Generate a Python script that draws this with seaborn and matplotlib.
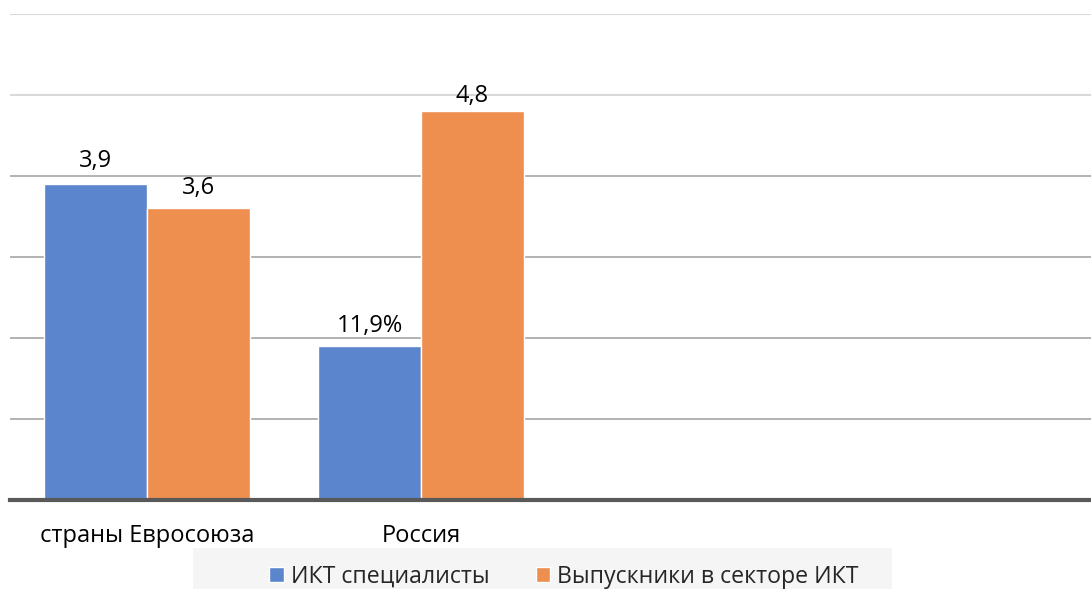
import matplotlib
matplotlib.use("Agg")
import matplotlib.pyplot as plt
import matplotlib.patches as mpatches
import seaborn as sns
import pandas as pd

categories = ["страны Евросоюза", "Россия"]
series_names = ["ИКТ специалисты", "Выпускники в секторе ИКТ"]
ikt_values = [3.9, 1.9]
grad_values = [3.6, 4.8]
ikt_labels = ["3,9", "11,9%"]
grad_labels = ["3,6", "4,8"]
colors = ["#5B86CD", "#EE8F50"]

df = pd.DataFrame({
    "cat": categories * 2,
    "series": [series_names[0]] * 2 + [series_names[1]] * 2,
    "val": ikt_values + grad_values,
})

sns.set_theme(style="white")
plt.rcParams["font.family"] = ["Open Sans", "DejaVu Sans"]

W, H = 1091, 589
fig = plt.figure(figsize=(W / 100, H / 100), dpi=100)
ax = fig.add_axes([10 / W, (H - 500) / H, (W - 10) / W, (500 - 14) / H])
ax.patch.set_alpha(0)

sns.barplot(data=df, x="cat", y="val", hue="series", order=categories,
            hue_order=series_names, palette=colors, width=0.75,
            edgecolor="white", linewidth=1, saturation=1, ax=ax)

ax.set_xlim(-0.5, -0.5 + (W - 10) / 274)
ax.set_ylim(0, 6)
ax.set_yticks([])
ax.tick_params(axis="x", length=0, labelsize=17, pad=17, colors="#000000")
for yv in [1, 2, 3, 4]:
    ax.axhline(yv, color="#a6a6a6", lw=1.2, zorder=0)
for yv in [5, 6]:
    ax.axhline(yv, color="#d9d9d9", lw=1.5, zorder=0)
ax.set_xlabel("")
ax.set_ylabel("")
for s in ["top", "right", "left"]:
    ax.spines[s].set_visible(False)
ax.spines["bottom"].set_color("#595959")
ax.spines["bottom"].set_linewidth(3)

paddings = [[8, 6], [6, 2]]
for cont, labs, pads in zip(ax.containers, [ikt_labels, grad_labels], paddings):
    for bar, lab, pd_ in zip(cont, labs, pads):
        ax.annotate(lab, (bar.get_x() + bar.get_width() / 2, bar.get_height()),
                    xytext=(0, pd_), textcoords="offset points",
                    ha="center", va="bottom", fontsize=17, color="#000000")

# legend background band
fig.patches.append(mpatches.Rectangle((193 / W, 0), (892 - 193) / W, (H - 548) / H,
                                      transform=fig.transFigure, facecolor="#f5f5f5",
                                      edgecolor="none", zorder=-5))

leg = ax.legend(loc="center", bbox_to_anchor=(564 / W, (H - 577) / H),
                bbox_transform=fig.transFigure, ncol=2, frameon=False,
                fontsize=16.7, handlelength=0.62, handleheight=0.62,
                handletextpad=0.3, columnspacing=2.0, borderpad=0.2)
leg.set_zorder(10)

fig.savefig("out.png", dpi=100)
